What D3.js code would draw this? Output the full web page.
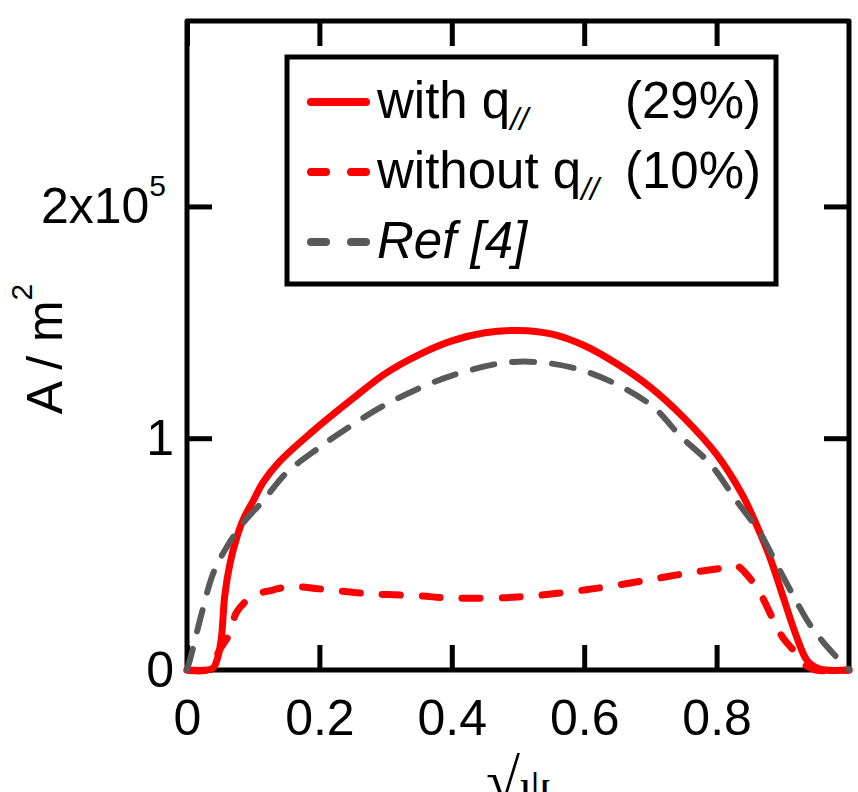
<!DOCTYPE html>
<html>
<head>
<meta charset="utf-8">
<script src="https://cdn.jsdelivr.net/npm/d3@7"></script>
<style>
body { margin: 0; background: #fff; }
svg { display: block; }
text { font-family: "Liberation Sans", Arial, sans-serif; fill: #000; }
</style>
</head>
<body>
<svg></svg>
<script>
// current density profiles, in units of 1e5 A/m^2, against sqrt(psi)
// with q// (solid red)
const psiWith = [0, 0.03, 0.04, 0.047, 0.052, 0.057, 0.065, 0.075, 0.085, 0.1, 0.115, 0.14, 0.19, 0.25, 0.3, 0.35, 0.4, 0.45, 0.5, 0.55, 0.6, 0.65, 0.7, 0.75, 0.8, 0.84, 0.855, 0.88, 0.9, 0.92, 0.937, 0.955, 1.0]
const jWith = [0, 0, 0.01, 0.06, 0.14, 0.32, 0.46, 0.57, 0.65, 0.73, 0.81, 0.90, 1.03, 1.17, 1.28, 1.36, 1.42, 1.455, 1.465, 1.45, 1.40, 1.32, 1.22, 1.09, 0.93, 0.75, 0.66, 0.49, 0.32, 0.15, 0.04, 0.005, 0]

// without q// (dashed red)
const psiWithout = [0, 0.03, 0.039, 0.05, 0.065, 0.075, 0.1, 0.13, 0.155, 0.2, 0.27, 0.35, 0.4, 0.5, 0.6, 0.7, 0.76, 0.81, 0.83, 0.846, 0.866, 0.885, 0.9, 0.916, 0.93, 0.95, 1.0]
const jWithout = [0, 0, 0.03, 0.09, 0.16, 0.25, 0.32, 0.345, 0.36, 0.35, 0.33, 0.32, 0.31, 0.315, 0.345, 0.39, 0.42, 0.44, 0.45, 0.41, 0.33, 0.22, 0.14, 0.085, 0.03, 0, 0]

// Ref [4] (dashed grey)
const psiRef = [0, 0.006, 0.02, 0.04, 0.06, 0.085, 0.115, 0.15, 0.2, 0.23, 0.3, 0.4, 0.5, 0.6, 0.7, 0.745, 0.79, 0.83, 0.866, 0.89, 0.916, 0.94, 0.967, 1.0]
const jRef = [0, 0.06, 0.22, 0.42, 0.53, 0.635, 0.73, 0.85, 0.96, 1.02, 1.145, 1.27, 1.33, 1.29, 1.145, 1.01, 0.89, 0.73, 0.59, 0.46, 0.32, 0.20, 0.10, 0]

const xTicks = [0, 0.2, 0.4, 0.6, 0.8]
const xTickLabels = ["0", "0.2", "0.4", "0.6", "0.8"]
const yTicks = [0, 1, 2]
const yTickLabels = ["0", "1", "2x10"]

const legendNames = ["with q", "without q", "Ref [4]"]
const legendNotes = ["(29%)", "(10%)", ""]

const width = 858, height = 792
const plotLeft = 187, plotRight = 849, plotTop = 21, plotBottom = 670
const fontSize = 50

const svg = d3.select('svg')
    .attr('width', width)
    .attr('height', height)

const x = d3.scaleLinear().domain([0, 1]).range([plotLeft, plotRight])
const y = d3.scaleLinear().domain([0, 2.8]).range([plotBottom, plotTop])

// axes, ticks pointing inward on all four sides
function styleAxis(g) {
    g.select('.domain').remove()
    g.selectAll('.tick line').attr('stroke', '#000').attr('stroke-width', 5)
    g.attr('font-size', fontSize).attr('font-family', null)
}

svg.append('g')
    .attr('transform', 'translate(0,' + plotBottom + ')')
    .call(d3.axisBottom(x).tickValues(xTicks).tickFormat((d, i) => xTickLabels[i]).tickSize(-25).tickPadding(29))
    .call(styleAxis)

svg.append('g')
    .attr('transform', 'translate(0,' + plotTop + ')')
    .call(d3.axisTop(x).tickValues(xTicks).tickFormat('').tickSize(-25))
    .call(styleAxis)

const yAxis = svg.append('g')
    .attr('transform', 'translate(' + plotLeft + ',0)')
    .call(d3.axisLeft(y).tickValues(yTicks).tickFormat((d, i) => yTickLabels[i]).tickSize(-25).tickPadding(13))
    .call(styleAxis)

// 2x10^5 gets its exponent
yAxis.selectAll('.tick text')
    .filter(d => d === 2)
    .attr('x', -21)
    .append('tspan')
    .attr('font-size', 30)
    .attr('dy', '-0.9em')
    .text('5')

svg.append('g')
    .attr('transform', 'translate(' + plotRight + ',0)')
    .call(d3.axisRight(y).tickValues(yTicks).tickFormat('').tickSize(-25))
    .call(styleAxis)

svg.append('rect')
    .attr('x', plotLeft)
    .attr('y', plotTop)
    .attr('width', plotRight - plotLeft)
    .attr('height', plotBottom - plotTop)
    .attr('fill', 'none')
    .attr('stroke', '#000')
    .attr('stroke-width', 5)
    .attr('stroke-linejoin', 'round')

// axis titles
svg.append('text')
    .attr('transform', 'translate(62,349) rotate(-90)')
    .attr('text-anchor', 'middle')
    .attr('font-size', fontSize)
    .call(t => t.append('tspan').text('A / m'))
    .call(t => t.append('tspan').attr('font-size', 30).attr('dy', -30).text('2'))

// sqrt(psi), cut by the bottom edge as in the original
svg.append('text')
    .attr('x', (plotLeft + plotRight) / 2)
    .attr('y', 802)
    .attr('text-anchor', 'middle')
    .style('font-family', '"Liberation Serif", "DejaVu Serif", serif')
    .call(t => t.append('tspan').attr('font-size', 62).text('\u221A'))
    .call(t => t.append('tspan').attr('font-size', 48).text('\u03C8'))

// curves
const series = [
    { psi: psiWith, j: jWith, color: '#ff0000', width: 7, dash: null },
    { psi: psiWithout, j: jWithout, color: '#ff0000', width: 7, dash: '18,22' },
    { psi: psiRef, j: jRef, color: '#595959', width: 6, dash: '22,18' }
]

const line = d3.line()
    .x(d => x(d[0]))
    .y(d => y(d[1]))
    .curve(d3.curveCatmullRom.alpha(0.5))

svg.selectAll('path.curve')
    .data(series)
    .join('path')
    .attr('class', 'curve')
    .attr('d', s => line(d3.zip(s.psi, s.j)))
    .attr('fill', 'none')
    .attr('stroke', s => s.color)
    .attr('stroke-width', s => s.width)
    .attr('stroke-dasharray', s => s.dash)
    .attr('stroke-linecap', 'round')
    .attr('stroke-linejoin', 'round')

// legend
const legend = svg.append('g')

legend.append('rect')
    .attr('x', 287)
    .attr('y', 57)
    .attr('width', 489)
    .attr('height', 227)
    .attr('fill', '#fff')
    .attr('stroke', '#000')
    .attr('stroke-width', 5)

const rows = legend.selectAll('g.row')
    .data(series)
    .join('g')
    .attr('class', 'row')
    .attr('transform', (d, i) => 'translate(0,' + (102 + i * 70) + ')')

rows.append('line')
    .attr('x1', 311).attr('x2', 366)
    .attr('stroke', d => d.color)
    .attr('stroke-width', 8)
    .attr('stroke-linecap', 'round')
    .attr('stroke-dasharray', (d, i) => i ? '15,25' : null)

rows.append('text')
    .attr('x', 377)
    .attr('y', 16)
    .attr('font-size', 51)
    .attr('font-style', (d, i) => i === 2 ? 'italic' : null)
    .each(function (d, i) {
        const t = d3.select(this)
        if (i === 2) { t.text(legendNames[i]); return }
        t.append('tspan').text(legendNames[i])
        t.append('tspan').attr('font-size', 32).attr('font-style', 'italic').attr('dy', 12).text('//')
    })

rows.append('text')
    .attr('x', 761)
    .attr('y', 16)
    .attr('text-anchor', 'end')
    .attr('font-size', 51)
    .text((d, i) => legendNotes[i])
</script>
</body>
</html>
